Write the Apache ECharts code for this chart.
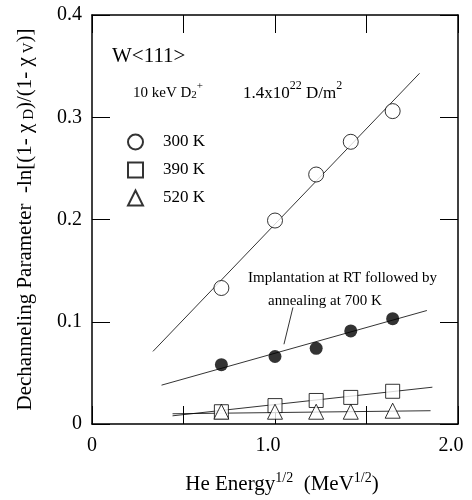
<!DOCTYPE html>
<html><head><meta charset="utf-8">
<script src="https://cdn.jsdelivr.net/npm/echarts@6/dist/echarts.min.js"></script>
<style>html,body{margin:0;padding:0;background:#fff}#c{width:472px;height:500px}</style>
</head><body><div id="c"></div>
<script>
// data
const energySqrt = [0.707, 1.0, 1.225, 1.414, 1.643];
const k300 = [0.133, 0.199, 0.244, 0.276, 0.306];
const annealed = [0.058, 0.066, 0.074, 0.091, 0.103];
const k390 = [0.012, 0.018, 0.023, 0.026, 0.032];
const k520 = [0.012, 0.012, 0.012, 0.012, 0.013];
// fitted lines (endpoints)
const fit300 = [[0.333, 0.071], [1.79, 0.343]];
const fitAnn = [[0.38, 0.038], [1.83, 0.111]];
const fit390 = [[0.44, 0.008], [1.86, 0.036]];
const fit520 = [[0.44, 0.010], [1.85, 0.013]];
const leader = [[1.098, 0.114], [1.049, 0.078]];
const xTicks = [0, 0.5, 1.0, 1.5, 2.0];
const yTicks = [0, 0.1, 0.2, 0.3, 0.4];

const F = 'Liberation Serif';
const pair = (xs, ys) => xs.map((x, i) => [x, ys[i]]);
const hollow = {color: '#fff', borderColor: '#000', borderWidth: 1};
const lineS = (d) => ({type: 'line', data: d, symbol: 'none', silent: true,
  lineStyle: {color: '#000', width: 0.8}, z: 1, xAxisIndex: 0, yAxisIndex: 0});

const axisCommon = {
  min: 0, interval: 0.5,
  axisLine: {show: true, onZero: false, lineStyle: {color: '#000', width: 1.5}},
  axisTick: {show: true, inside: true, length: 18, lineStyle: {color: '#000', width: 1}},
  splitLine: {show: false}
};
const chart = echarts.init(document.getElementById('c'));
chart.setOption({
  animation: false,
  backgroundColor: '#fff',
  grid: {left: 92, right: 14, top: 15, bottom: 73},
  xAxis: [
    Object.assign({}, axisCommon, {type: 'value', position: 'bottom', max: xTicks[xTicks.length - 1],
      axisLabel: {color: '#000', margin: 12,
        formatter: v => (v === 0 ? '{z|0}' : (Math.abs(v % 1) < 1e-9 ? '{n|' + v.toFixed(1) + '}' : '')),
        rich: {z: {fontFamily: F, fontSize: 20, color: '#000'},
               n: {fontFamily: F, fontSize: 20, color: '#000', padding: [0, 14, 0, 0]}}},
      name: '{p|He Energy}{s|1/2}{a|  (MeV}{s|1/2}{a|)}', nameLocation: 'middle', nameGap: 47,
      nameTextStyle: {rich: {
        p: {fontFamily: F, fontSize: 21, color: '#000', lineHeight: 24, verticalAlign: 'bottom', padding: [0, 0, 0, 14]},
        a: {fontFamily: F, fontSize: 21, color: '#000', lineHeight: 24, verticalAlign: 'bottom'},
        s: {fontFamily: F, fontSize: 14, color: '#000', lineHeight: 24, verticalAlign: 'top'}
      }}}),
    Object.assign({}, axisCommon, {type: 'value', position: 'top', max: 2, axisLabel: {show: false}})
  ],
  yAxis: [
    Object.assign({}, axisCommon, {type: 'value', position: 'left', interval: 0.1, max: yTicks[yTicks.length - 1],
      axisLabel: {fontFamily: F, fontSize: 20, color: '#000', margin: 10,
        formatter: v => (v === 0 ? '0' : v.toFixed(1))},
      name: '{a|Dechanneling Parameter  -ln[(1- χ}{b| D}{a|)/(1- χ}{b| V}{a|)]}', nameLocation: 'middle', nameGap: 55,
      nameRotate: 90,
      nameTextStyle: {rich: {
        a: {fontFamily: F, fontSize: 21, color: '#000', lineHeight: 24},
        b: {fontFamily: F, fontSize: 15, color: '#000', lineHeight: 24, verticalAlign: 'bottom'}
      }}}),
    Object.assign({}, axisCommon, {type: 'value', position: 'right', interval: 0.1, max: 0.4, axisLabel: {show: false}})
  ],
  legend: {
    orient: 'vertical', left: 122, top: 128, itemWidth: 15, itemHeight: 15, itemGap: 10,
    selectedMode: false,
    textStyle: {fontFamily: F, fontSize: 17, color: '#000', lineHeight: 18, padding: [0, 0, 0, 15]},
    data: [
      {name: '300 K', icon: 'circle'},
      {name: '390 K', icon: 'rect'},
      {name: '520 K', icon: 'triangle'}
    ]
  },
  graphic: [
    {type: 'text', left: 112, top: 46, style: {text: 'W<111>', font: '21px "Liberation Serif"', fill: '#000'}},
    {type: 'text', left: 133, top: 81, style: {
      text: '{a|10 keV D}{sb|2}{sp|+}',
      rich: {a: {fontFamily: F, fontSize: 15, fill: '#000', lineHeight: 20, verticalAlign: 'bottom'},
        sb: {fontFamily: F, fontSize: 11, fill: '#000', lineHeight: 20, verticalAlign: 'bottom'},
        sp: {fontFamily: F, fontSize: 11, fill: '#000', lineHeight: 20, verticalAlign: 'top'}}}},
    {type: 'text', left: 243, top: 80, style: {
      text: '{a|1.4x10}{sp|22}{a| D/m}{sp|2}',
      rich: {a: {fontFamily: F, fontSize: 17, fill: '#000', lineHeight: 22, verticalAlign: 'bottom'},
        sp: {fontFamily: F, fontSize: 12, fill: '#000', lineHeight: 22, verticalAlign: 'top'}}}},
    {type: 'text', left: 248, top: 271, style: {text: 'Implantation at RT followed by', font: '15px "Liberation Serif"', fill: '#000'}},
    {type: 'text', left: 268, top: 294, style: {text: 'annealing at 700 K', font: '15px "Liberation Serif"', fill: '#000'}}
  ],
  series: [
    lineS(fit300), lineS(fitAnn), lineS(fit390), lineS(fit520), lineS(leader),
    {name: '300 K', type: 'scatter', data: pair(energySqrt, k300), symbol: 'circle', symbolSize: 15, itemStyle: hollow, z: 3},
    {name: 'annealed', type: 'scatter', data: pair(energySqrt, annealed), symbol: 'circle', symbolSize: 13, itemStyle: {color: '#000'}, z: 3},
    {name: '390 K', type: 'scatter', data: pair(energySqrt, k390), symbol: 'rect', symbolSize: 14, itemStyle: hollow, z: 3},
    {name: '520 K', type: 'scatter', data: pair(energySqrt, k520), symbol: 'triangle', symbolSize: 15, itemStyle: hollow, z: 4}
  ]
});
</script></body></html>
